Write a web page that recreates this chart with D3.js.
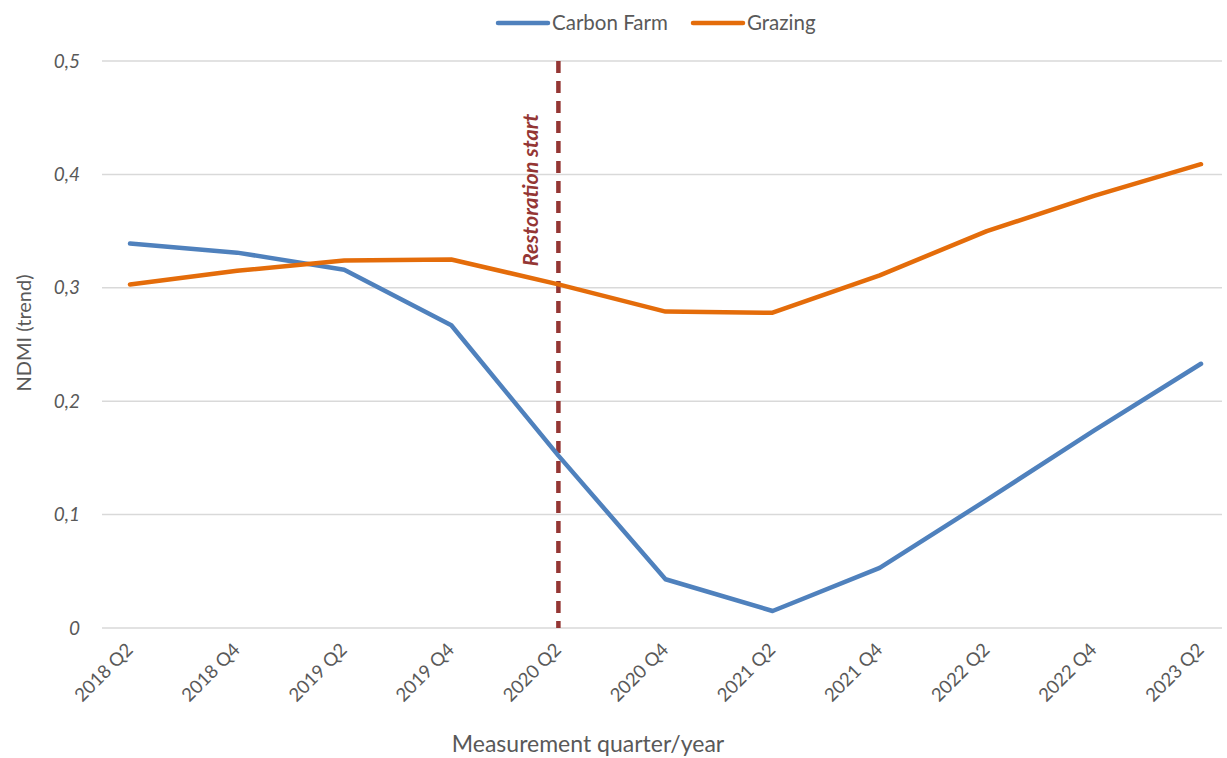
<!DOCTYPE html>
<html><head><meta charset="utf-8">
<script src="https://cdn.jsdelivr.net/npm/d3@7"></script>
<style>body{margin:0;background:#fff}svg{display:block}text{font-family:Lato,"Open Sans",sans-serif}</style>
</head><body>
<svg id="c" width="1227" height="758"></svg>
<script>
const categories = ["2018 Q2","2018 Q4","2019 Q2","2019 Q4","2020 Q2","2020 Q4","2021 Q2","2021 Q4","2022 Q2","2022 Q4","2023 Q2"];
const carbonFarm = [0.339,0.331,0.316,0.267,0.152,0.043,0.015,0.053,0.113,0.174,0.233];
const grazing    = [0.303,0.315,0.324,0.325,0.303,0.279,0.278,0.311,0.350,0.381,0.409];
const yTicks = [0,0.1,0.2,0.3,0.4,0.5];
const restorationAt = "2020 Q2";

const svg = d3.select("#c");
const x = d3.scalePoint().domain(categories).range([130,1201]);
const y = d3.scaleLinear().domain([0,0.5]).range([628,61]);
const fmt = d => d===0 ? "0" : d3.format(".1f")(d).replace(".", ",");

// grid
svg.append("g").selectAll("line").data(yTicks).join("line")
  .attr("x1",102).attr("x2",1222).attr("y1",d=>y(d)).attr("y2",d=>y(d))
  .attr("stroke","#d9d9d9").attr("stroke-width",1.5);

// y labels
svg.append("g").selectAll("text").data(yTicks).join("text")
  .attr("x",80).attr("y",d=>y(d)).attr("dy","0.35em").attr("text-anchor","end")
  .attr("font-size",19).attr("font-style","italic").attr("fill","#595959").text(fmt);

// x labels
svg.append("g").selectAll("text").data(categories).join("text")
  .attr("transform",d=>`translate(${x(d)+4},${651}) rotate(-45)`)
  .attr("text-anchor","end").attr("font-size",18.5).attr("fill","#595959").text(d=>d);

// restoration line
svg.append("line").attr("x1",x(restorationAt)).attr("x2",x(restorationAt))
  .attr("y1",y(0.5)).attr("y2",y(0)).attr("stroke","#943634").attr("stroke-width",4.5)
  .attr("stroke-dasharray","12,8");
svg.append("text").attr("transform",`translate(${x(restorationAt)-20},190) rotate(-90)`)
  .attr("text-anchor","middle").attr("font-size",21.5).attr("font-weight","bold").attr("font-style","italic")
  .attr("fill","#943634").text("Restoration start");

// lines
const line = d3.line().x((d,i)=>x(categories[i])).y(d=>y(d));
const series = [{name:"Carbon Farm",values:carbonFarm,color:"#4F81BD"},{name:"Grazing",values:grazing,color:"#E46C0A"}];
series.forEach(s=>{
  svg.append("path").attr("d",line(s.values)).attr("fill","none").attr("stroke",s.color)
    .attr("stroke-width",4.5).attr("stroke-linecap","round").attr("stroke-linejoin","round");
});

// legend
const legX = [498,693];
series.forEach((s,i)=>{
  svg.append("line").attr("x1",legX[i]).attr("x2",legX[i]+50).attr("y1",23).attr("y2",23)
    .attr("stroke",s.color).attr("stroke-width",4.5).attr("stroke-linecap","round");
  svg.append("text").attr("x",legX[i]+54).attr("y",23).attr("dy","0.35em")
    .attr("font-size",20.5).attr("fill","#595959").text(s.name);
});

// axis titles
svg.append("text").attr("transform","translate(31,333) rotate(-90)").attr("text-anchor","middle")
  .attr("font-size",20).attr("fill","#595959").text("NDMI (trend)");
svg.append("text").attr("x",588).attr("y",752).attr("text-anchor","middle")
  .attr("font-size",23).attr("fill","#595959").text("Measurement quarter/year");
</script>
</body></html>
